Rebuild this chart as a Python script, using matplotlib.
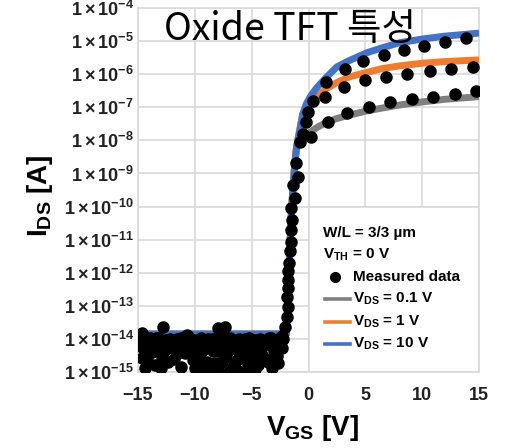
import numpy as np
import matplotlib
matplotlib.use("Agg")
import matplotlib.pyplot as plt
from matplotlib.patches import Rectangle
from matplotlib.lines import Line2D

plt.rcParams.update({
    "font.family": ["Liberation Sans", "DejaVu Sans"],
    "mathtext.fontset": "custom",
    "mathtext.rm": "Liberation Sans",
    "mathtext.bf": "Liberation Sans:bold",
    "mathtext.it": "Liberation Sans:italic",
})

# ---- model transfer curves (V_GS in V, I_DS in A) ----
vgs_10 = [-15, -1.95, -1.85, -1.75, -1.65, -1.55, -1.45, -1.35, -1.2, -1.05,
          -0.8, -0.5, -0.2, 0.2, 0.7, 1.5, 2.5, 3.5, 5.1, 6.5, 8.0, 10.0, 12.0, 15.0]
ids_10 = [1.4e-14, 1.4e-14, 7.9e-14, 6.3e-13, 5.0e-12, 3.2e-11, 1.3e-10, 4.5e-10,
          2.0e-9, 6.3e-9, 1.8e-8, 6.3e-8, 1.26e-7, 2.2e-7, 3.8e-7, 7.6e-7, 1.66e-6,
          2.5e-6, 4.4e-6, 6.3e-6, 8.9e-6, 1.15e-5, 1.41e-5, 1.74e-5]

vgs_1 = [-15, -1.95, -1.85, -1.75, -1.65, -1.55, -1.45, -1.35, -1.2, -1.05,
         -0.8, -0.5, 0.0, 0.7, 1.6, 2.5, 3.6, 5.0, 6.5, 8.0, 10.0, 12.0, 15.0]
ids_1 = [1.4e-14, 1.4e-14, 7.9e-14, 6.3e-13, 5.0e-12, 3.2e-11, 1.3e-10, 4.5e-10,
         2.0e-9, 6.3e-9, 1.8e-8, 6.3e-8, 1.12e-7, 2.0e-7, 3.7e-7, 5.6e-7, 8.3e-7,
         1.1e-6, 1.48e-6, 1.78e-6, 2.14e-6, 2.4e-6, 2.7e-6]

vgs_01 = [-15, -1.95, -1.85, -1.75, -1.65, -1.55, -1.45, -1.35, -1.2, -1.05,
          -0.8, -0.5, 0.0, 0.7, 1.5, 2.5, 3.7, 5.0, 6.5, 8.0, 10.0, 12.0, 15.0]
ids_01 = [1.4e-14, 1.4e-14, 7.9e-14, 6.3e-13, 5.0e-12, 3.2e-11, 1.3e-10, 4.5e-10,
          2.0e-9, 6.3e-9, 7.9e-9, 1.12e-8, 1.58e-8, 2.4e-8, 3.4e-8, 4.6e-8,
          5.9e-8, 7.6e-8, 9.5e-8, 1.17e-7, 1.45e-7, 1.74e-7, 2.1e-7]

# ---- measured data ----
# off state (noise floor), shared by all drain biases
meas_vgs_off = [-12.79, -14.69, -14.84, -13.96, -13.52, -14.55, -14.69, -14.40,
                -13.08, -12.64, -12.05, -11.61, -11.47, -10.73, -10.73, -12.35,
                -13.52, -10.15, -10.00, -9.85, -9.12, -9.41, -8.53, -8.39, -8.24,
                -7.95, -8.97, -7.36, -7.65, -7.80, -7.07, -7.65, -6.48, -5.60,
                -4.72, -3.84, -3.11, -5.89, -5.01, -4.13, -6.48, -5.31, -4.43,
                -3.55, -2.67, -2.81, -2.37, -2.23, -13.2, -11.0, -9.2, -6.9,
                -6.0, -5.2, -4.0, -3.3, -7.0, -6.2, -5.5, -8.0,
                -14.3, -13.4, -12.2, -11.2, -10.3, -9.5, -8.8, -8.1, -7.3, -6.9,
                -6.1, -5.2, -4.3, -3.5, -2.7,
                -14.9, -14.1, -12.9, -12.3, -11.0, -10.4, -9.7, -8.7, -7.8, -7.4,
                -6.7, -6.3, -5.4, -4.8, -3.9, -3.3, -2.5,
                -13.8, -12.7, -10.9, -9.9, -8.0, -6.0, -4.5, -3.0,
                -14.2, -12.9, -11.8, -9.6, -7.3, -6.2, -5.6, -4.9, -3.8, -2.9,
                -13.0, -11.2, -9.3, -8.6, -6.6, -4.7, -3.2]
meas_ids_off = [2.3e-14, 1.5e-14, 9.3e-15, 1.05e-14, 6.6e-15, 5.2e-15, 2.6e-15,
                1.3e-15, 5.2e-15, 9.3e-15, 5.2e-15, 1.0e-14, 3.7e-15, 1.3e-14,
                5.9e-15, 2.0e-15, 1.6e-15, 2.3e-15, 1.3e-15, 9.3e-15, 8.3e-15,
                4.2e-15, 1.0e-14, 4.2e-15, 1.9e-15, 2.1e-14, 2.0e-15, 2.3e-14,
                1.9e-14, 8.3e-15, 4.2e-15, 2.0e-15, 8.3e-15, 1.0e-14, 9.3e-15,
                8.3e-15, 5.9e-15, 3.3e-15, 4.2e-15, 3.3e-15, 1.9e-15, 1.6e-15,
                1.6e-15, 2.0e-15, 1.9e-15, 3.0e-15, 5.2e-15, 1.0e-14, 1.1e-14,
                7.0e-15, 6.0e-15, 5.5e-15, 3.5e-15, 6.5e-15, 6.0e-15, 1.1e-14,
                1.0e-15, 1.1e-15, 1.0e-15, 1.2e-15,
                1.0e-14, 1.1e-14, 1.0e-14, 1.1e-14, 1.0e-14, 1.1e-14, 1.0e-14,
                1.1e-14, 1.0e-14, 1.1e-14, 1.0e-14, 1.1e-14, 1.0e-14, 1.1e-14,
                1.0e-14,
                6.5e-15, 6.0e-15, 7.0e-15, 6.5e-15, 6.0e-15, 7.0e-15, 6.5e-15,
                6.0e-15, 7.0e-15, 6.5e-15, 6.0e-15, 7.0e-15, 6.5e-15, 6.0e-15,
                7.0e-15, 6.5e-15, 6.0e-15,
                4.0e-15, 4.2e-15, 3.8e-15, 4.0e-15, 4.2e-15, 3.8e-15, 4.0e-15,
                4.2e-15,
                2.6e-15, 2.8e-15, 2.5e-15, 2.6e-15, 2.8e-15, 2.5e-15, 2.6e-15,
                2.8e-15, 2.5e-15, 2.6e-15,
                1.3e-15, 1.4e-15, 1.2e-15, 1.3e-15, 1.4e-15, 1.2e-15, 1.3e-15]
# subthreshold region, shared by all drain biases
meas_vgs_sub = [-2.29, -2.08, -1.93, -1.79, -1.88, -1.79, -1.79, -1.79, -1.71,
                -1.64, -1.58, -1.50, -1.41, -1.50, -1.20, -1.35, -0.91, -1.06,
                -0.77, -0.47, -0.18, -0.04, 0.40]
meas_ids_sub = [1.2e-14, 2.3e-14, 4.7e-14, 9.5e-14, 1.9e-13, 3.5e-13, 6.0e-13,
                1.1e-12, 2.0e-12, 4.4e-12, 8.7e-12, 1.9e-11, 4.0e-11, 8.9e-11,
                1.8e-10, 4.5e-10, 7.9e-10, 2.0e-9, 9.1e-9, 1.6e-8, 3.7e-8,
                7.4e-8, 1.5e-7]
# on state, V_DS = 10 V
meas_vgs_10 = [1.58, 3.2, 4.8, 6.6, 8.4, 10.2, 12.0, 13.9]
meas_ids_10 = [5.9e-7, 1.45e-6, 2.5e-6, 3.9e-6, 5.4e-6, 7.1e-6, 9.6e-6, 1.2e-5]
# on state, V_DS = 1 V
meas_vgs_1 = [1.43, 3.1, 4.95, 6.8, 8.65, 10.7, 12.5, 14.5]
meas_ids_1 = [2.0e-7, 4.1e-7, 6.6e-7, 8.3e-7, 1.02e-6, 1.26e-6, 1.45e-6, 1.66e-6]
# on state, V_DS = 0.1 V
meas_vgs_01 = [0.26, 1.70, 3.43, 5.30, 7.21, 9.11, 10.96, 12.93, 14.78]
meas_ids_01 = [1.3e-8, 3.7e-8, 6.9e-8, 1.05e-7, 1.4e-7, 1.74e-7, 2.1e-7, 2.5e-7, 3.2e-7]

x_ticks = [-15, -10, -5, 0, 5, 10, 15]
y_exponents = list(range(-15, -3))

c_gray = "#7f7f7f"
c_orange = "#ed7d31"
c_blue = "#4472c4"
c_grid = "#d9d9d9"

fig = plt.figure(figsize=(5.05, 4.48), dpi=100)
ax = fig.add_axes([138 / 505, 1 - 372 / 448, 341 / 505, 364 / 448])
ax.set_yscale("log")
ax.set_xlim(-15, 15)
ax.set_ylim(1e-15, 1e-4)

ax.set_xticks(x_ticks)
ax.set_xticklabels(["\u2212%d" % -v if v < 0 else "%d" % v for v in x_ticks],
                   fontsize=13, fontweight="bold")
ax.set_yticks([10.0 ** e for e in y_exponents])
ax.set_yticklabels([r"$\mathbf{1\times10^{%d}}$" % e for e in y_exponents],
                   fontsize=13)
ax.yaxis.set_minor_locator(matplotlib.ticker.NullLocator())
ax.tick_params(axis="both", length=0, colors="#222222")
ax.tick_params(axis="x", pad=11)
ax.tick_params(axis="y", pad=3)
ax.grid(True, color=c_grid, linewidth=1.2, zorder=0)
ax.set_axisbelow(True)
for sp in ax.spines.values():
    sp.set_color(c_grid)
    sp.set_linewidth(1.2)

ax.plot(vgs_01, ids_01, color=c_gray, lw=5, solid_capstyle="butt", zorder=3)
ax.plot(vgs_1, ids_1, color=c_orange, lw=5, solid_capstyle="butt", zorder=3.1)
ax.plot(vgs_10, ids_10, color=c_blue, lw=5, solid_capstyle="butt", zorder=3.2)

for xs, ys in [(meas_vgs_off, meas_ids_off), (meas_vgs_sub, meas_ids_sub),
               (meas_vgs_10, meas_ids_10), (meas_vgs_1, meas_ids_1),
               (meas_vgs_01, meas_ids_01)]:
    ax.plot(xs, ys, "o", color="black", ms=8, mec="black", zorder=4)

# legend panel
ax.add_patch(Rectangle((0.5, 0.0), 0.5, 5 / 11, transform=ax.transAxes,
                       facecolor="white", edgecolor=c_grid, lw=1.2, zorder=1.5))
lx, hx0, hx1, tx = 0.5425, 0.548, 0.622, 0.6305
rows = [0.382, 0.321, 0.261, 0.2005, 0.137, 0.077]
fs_leg = 11
ax.text(lx, rows[0], "W/L = 3/3 \u00b5m", transform=ax.transAxes, fontsize=fs_leg,
        fontweight="bold", va="center", ha="left", zorder=5)
ax.text(lx, rows[1], r"$\mathbf{V_{TH}}$ = 0 V", transform=ax.transAxes,
        fontsize=fs_leg, fontweight="bold", va="center", ha="left", zorder=5)
ax.add_line(Line2D([0.578], [rows[2]], transform=ax.transAxes, marker="o",
                   color="black", ms=7, ls="none", zorder=5))
ax.text(tx, rows[2], "Measured data", transform=ax.transAxes, fontsize=fs_leg,
        fontweight="bold", va="center", ha="left", zorder=5)
for r, col, lab in [(rows[3], c_gray, "0.1"), (rows[4], c_orange, "1"),
                    (rows[5], c_blue, "10")]:
    ax.add_line(Line2D([hx0, hx1], [r, r], transform=ax.transAxes, color=col,
                       lw=2.6, zorder=5))
    ax.text(tx, r, r"$\mathbf{V_{DS}}$ = %s V" % lab, transform=ax.transAxes,
            fontsize=fs_leg, fontweight="bold", va="center", ha="left", zorder=5)

# axis labels
fig.text(312 / 505, 1 - 435 / 448, r"$\mathbf{V_{GS}}$ [V]", fontsize=20,
         fontweight="bold", ha="center", va="baseline")
fig.text(40 / 505, 1 - 196 / 448, r"$\mathbf{I_{DS}}$ [A]", fontsize=20,
         fontweight="bold", ha="center", va="center", rotation=90)

# title
fig.text(290 / 505, 1 - 40 / 448, "Oxide TFT 특성", fontsize=27,
         family=["Noto Sans CJK KR", "DejaVu Sans"], ha="center", va="baseline",
         zorder=10)

fig.savefig("out.png", dpi=100)
